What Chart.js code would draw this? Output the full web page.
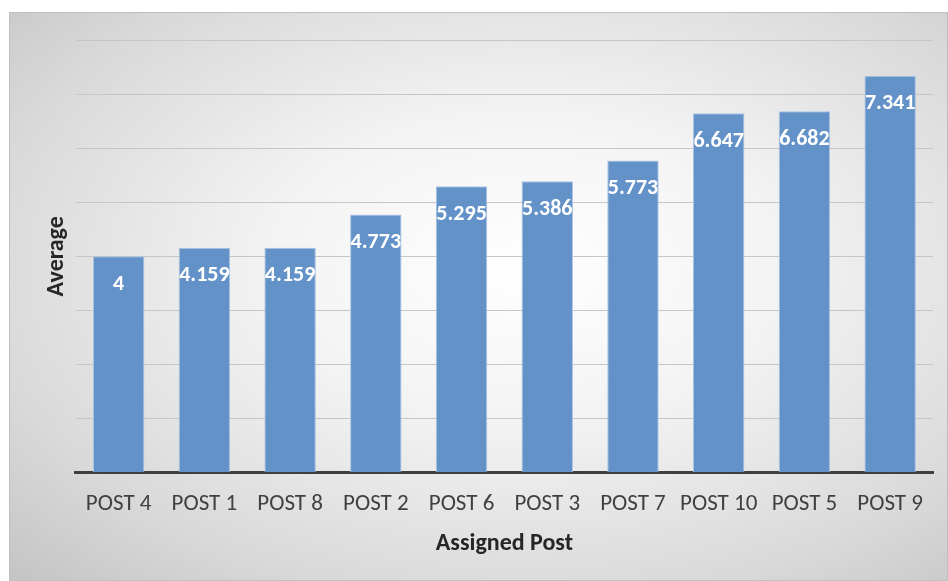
<!DOCTYPE html>
<html>
<head>
<meta charset="utf-8">
<script src="https://cdn.jsdelivr.net/npm/chart.js@4"></script>
<style>
    html, body { margin: 0; padding: 0; background: #fff; }
    #wrap {
        position: absolute;
        left: 9px;
        top: 12px;
        width: 937px;
        height: 567px;
        border: 1px solid #bfbfbf;
        background: radial-gradient(ellipse at 55% 45%, #ffffff 0%, #f3f3f3 35%, #d9d9d9 75%, #c4c4c4 100%);
    }
    #postChart { display: block; }
</style>
</head>
<body>
<div id="wrap"><canvas id="postChart" width="937" height="567"></canvas></div>
<script>
const categories = ['POST 4', 'POST 1', 'POST 8', 'POST 2', 'POST 6', 'POST 3', 'POST 7', 'POST 10', 'POST 5', 'POST 9'];
const averages = [4, 4.159, 4.159, 4.773, 5.295, 5.386, 5.773, 6.647, 6.682, 7.341];
const valueLabels = ['4', '4.159', '4.159', '4.773', '5.295', '5.386', '5.773', '6.647', '6.682', '7.341'];

const fontFamily = 'Carlito, Calibri, Lato, "Open Sans", sans-serif';

// white value labels drawn just inside the top of each bar
const barLabels = {
    id: 'barLabels',
    afterDatasetsDraw(chart) {
        const ctx = chart.ctx;
        const meta = chart.getDatasetMeta(0);
        ctx.save();
        ctx.fillStyle = '#ffffff';
        ctx.font = 'bold 22px ' + fontFamily;
        ctx.textAlign = 'center';
        ctx.textBaseline = 'middle';
        meta.data.forEach(function (bar, i) {
            ctx.fillText(valueLabels[i], bar.x, bar.y + 28);
        });
        ctx.restore();
    }
};

const chart = new Chart(document.getElementById('postChart').getContext('2d'), {
    type: 'bar',
    data: {
        labels: categories,
        datasets: [{
            label: 'Average',
            data: averages,
            backgroundColor: '#6392c8',
            borderColor: '#a9c3e3',
            borderWidth: 1,
            borderSkipped: 'bottom',
            categoryPercentage: 1,
            barPercentage: 0.6
        }]
    },
    options: {
        responsive: false,
        animation: false,
        layout: {
            padding: { left: 33, right: 14, top: 27, bottom: 22 }
        },
        plugins: {
            legend: { display: false },
            tooltip: { enabled: false }
        },
        scales: {
            y: {
                min: 0,
                max: 8,
                ticks: { stepSize: 1, display: false },
                border: { display: false },
                grid: { color: '#c6c6c6', lineWidth: 1, drawTicks: false },
                title: {
                    display: true,
                    text: 'Average',
                    color: '#262626',
                    font: { family: fontFamily, size: 24, weight: 'bold' },
                    padding: { top: 0, bottom: 4 }
                }
            },
            x: {
                grid: { display: false, drawTicks: false },
                border: { display: true, color: '#3f3f3f', width: 3 },
                ticks: {
                    color: '#404040',
                    padding: 18,
                    font: { family: fontFamily, size: 23 }
                },
                title: {
                    display: true,
                    text: 'Assigned Post',
                    color: '#262626',
                    font: { family: fontFamily, size: 24, weight: 'bold' },
                    padding: { top: -7, bottom: 0 }
                }
            }
        }
    },
    plugins: [barLabels]
});
</script>
</body>
</html>
